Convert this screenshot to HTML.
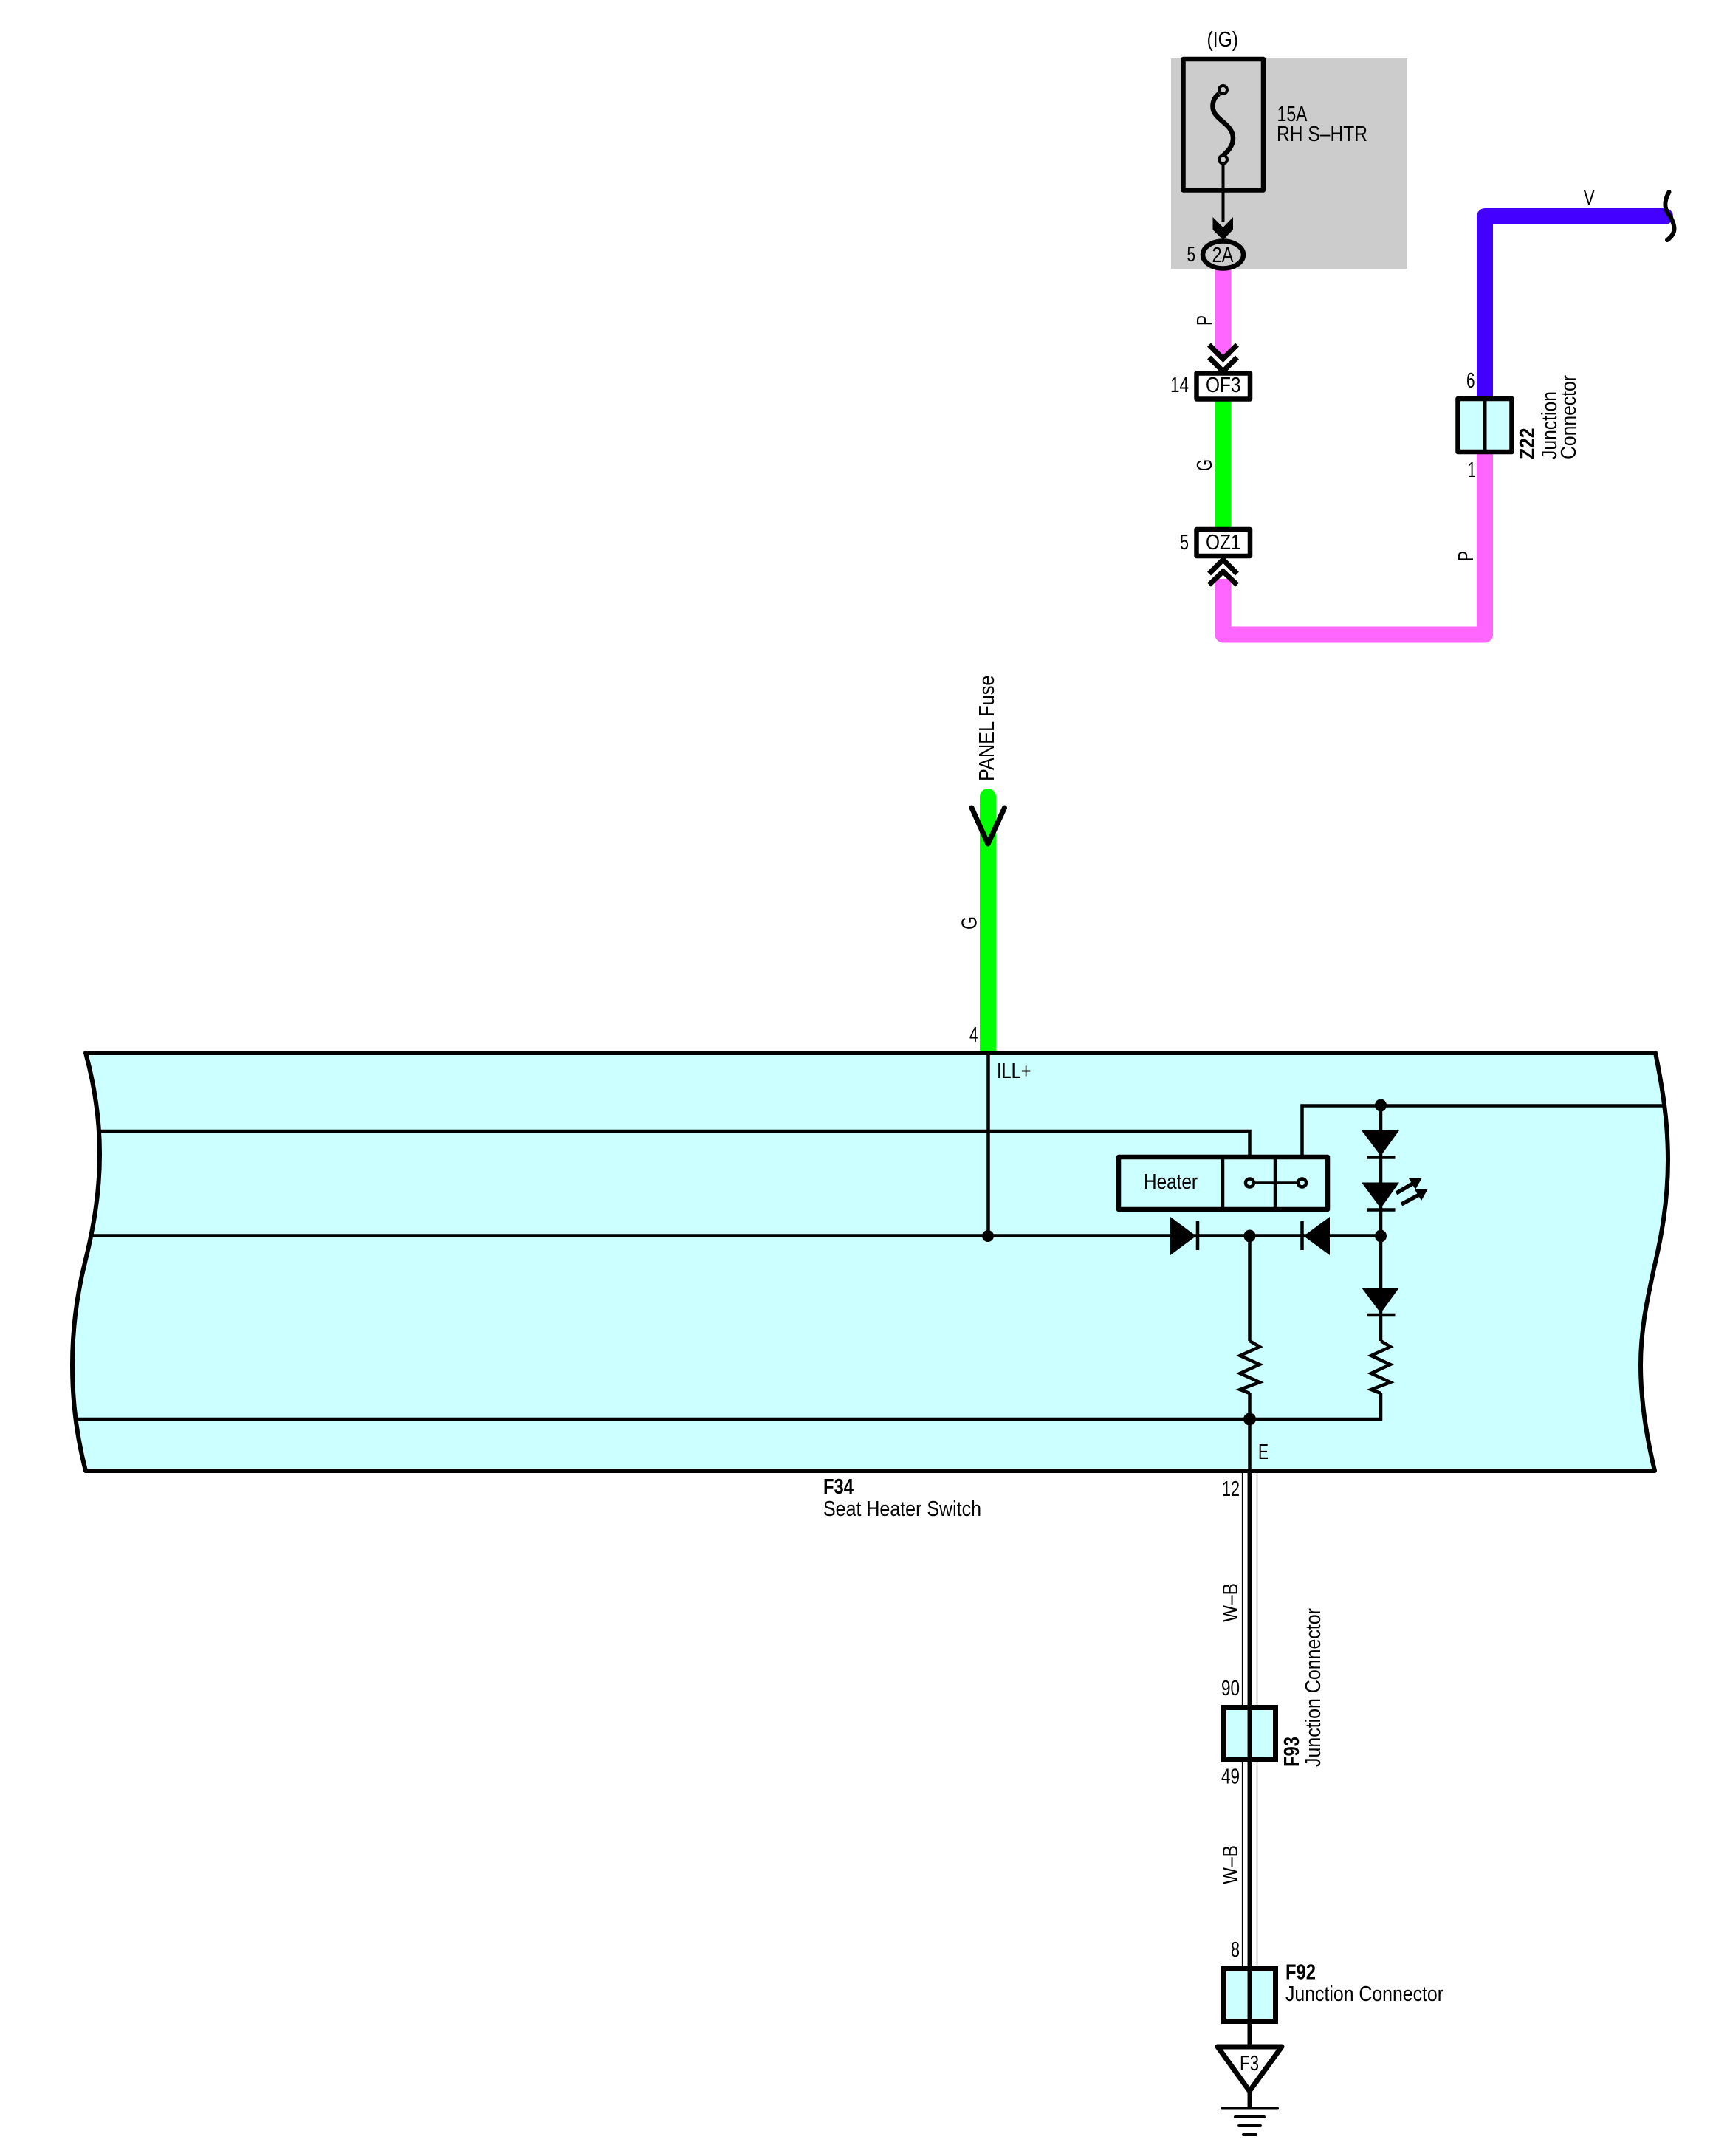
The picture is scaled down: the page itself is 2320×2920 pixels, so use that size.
<!DOCTYPE html>
<html lang="en">
<head>
<meta charset="utf-8">
<title>Seat Heater Switch Diagram</title>
<style>
html,body{margin:0;padding:0;background:#fff;width:2320px;height:2920px;overflow:hidden}
svg{display:block}
text{font-family:"Liberation Sans",Arial,sans-serif;font-size:29px;fill:#000}
.b{font-weight:bold}
</style>
</head>
<body>
<svg xmlns="http://www.w3.org/2000/svg" width="2320" height="2920" viewBox="0 0 2320 2920">
<rect width="2320" height="2920" fill="#fff"/>

<!-- Gray fuse block -->
<rect x="1586" y="79" width="320" height="285" fill="#cccccc"/>
<rect x="1602.500" y="80" width="108.500" height="177.500" fill="none" stroke="#000" stroke-width="6.500" stroke-linejoin="round"/>
<path d="M1651 127C1641 134,1640 148,1647 156C1654 165,1670 172,1670 187C1670 198,1663 205,1654 213" fill="none" stroke="#000" stroke-width="6.500"/>
<circle cx="1656.500" cy="121.500" r="5.500" fill="#ccc" stroke="#000" stroke-width="4"/>
<circle cx="1656.500" cy="216" r="5.500" fill="#ccc" stroke="#000" stroke-width="4"/>
<path d="M1656.500 221V300" stroke="#000" stroke-width="4" fill="none"/>
<path d="M1642.500 294L1656.500 308L1670 294V311L1656.500 325L1642.500 311Z" fill="#000"/>

<!-- Colour wires -->
<path d="M1656.500 365V482" stroke="#ff66ff" stroke-width="22" fill="none"/>
<path d="M1656.500 540V718" stroke="#00ff00" stroke-width="22" fill="none"/>
<path d="M1656.500 784V859.500H2011V610" stroke="#ff66ff" stroke-width="22" fill="none" stroke-linejoin="round"/>
<path d="M2011 540V293H2255" stroke="#4400ff" stroke-width="22" fill="none" stroke-linejoin="round" stroke-linecap="round"/>
<path d="M2260.500 260C2252 275,2255 285,2262 293C2268 304,2272 315,2258 325" fill="none" stroke="#000" stroke-width="6" stroke-linecap="round"/>

<!-- 2A oval -->
<ellipse cx="1656.500" cy="345" rx="27.500" ry="18.500" fill="#cccccc" stroke="#000" stroke-width="6.500"/>

<!-- Chevrons -->
<path d="M1637.500 467L1656.500 486L1675.500 467M1637.500 484L1656.500 503L1675.500 484" fill="none" stroke="#000" stroke-width="7"/>
<path d="M1637.500 777L1656.500 758L1675.500 777M1637.500 792L1656.500 774L1675.500 792" fill="none" stroke="#000" stroke-width="7"/>

<!-- OF3 / OZ1 -->
<rect x="1620.500" y="505.500" width="72.500" height="35" fill="#fff" stroke="#000" stroke-width="6.500" stroke-linejoin="round"/>
<rect x="1620.500" y="717" width="72.500" height="36" fill="#fff" stroke="#000" stroke-width="6.500" stroke-linejoin="round"/>

<!-- Z22 -->
<rect x="1974.500" y="540" width="73" height="72" fill="#ccffff" stroke="#000" stroke-width="6.500" stroke-linejoin="round"/>
<path d="M2011 540V612" stroke="#000" stroke-width="5" fill="none"/>

<!-- Panel fuse wire -->
<path d="M1338 1079V1423" stroke="#00ff00" stroke-width="22" fill="none" stroke-linecap="round"/>
<rect x="1327" y="1400" width="22" height="24" fill="#00ff00"/>
<path d="M1316 1094L1338 1143L1360.500 1094" fill="none" stroke="#000" stroke-width="7" stroke-linecap="round" stroke-linejoin="round"/>

<!-- Main switch body -->
<path d="M116 1426H2242C2252 1475,2259 1520,2259 1571C2259 1630,2249 1680,2240 1718C2231 1760,2222 1800,2222 1849C2222 1900,2231 1950,2241 1992H116C105 1950,98 1900,98 1849C98 1795,105 1750,115 1710C125 1670,135 1620,135 1563C135 1515,128 1470,116 1426Z" fill="#ccffff" stroke="#000" stroke-width="6" stroke-linejoin="round"/>

<!-- Inner wiring -->
<g fill="none" stroke="#000" stroke-width="4.500">
<path d="M135 1532H1692.500V1565"/>
<path d="M124 1673.500H1870"/>
<path d="M104 1922H1870V1887"/>
<path d="M1763.500 1565V1497.500H2253"/>
<path d="M1870 1497V1816"/>
<path d="M1338.500 1429V1673.500"/>
<path d="M1692.500 1673.500V1816"/>
<path d="M1692.500 1887V1992"/>
<path d="M1870 1816L1883 1824L1857 1836L1883 1848L1857 1860L1883 1872L1857 1882L1870 1887"/>
<path d="M1692.500 1816L1706 1824L1679.500 1836L1706 1848L1679.500 1860L1706 1872L1679.500 1882L1692.500 1887"/>
</g>

<!-- Heater box -->
<rect x="1515" y="1567" width="283" height="71" fill="#ccffff" stroke="#000" stroke-width="6.500" stroke-linejoin="round"/>
<path d="M1656 1568V1638M1727 1568V1638" stroke="#000" stroke-width="4.500" fill="none"/>
<path d="M1692.500 1602H1763.500" stroke="#000" stroke-width="3.500" fill="none"/>
<circle cx="1692.500" cy="1602" r="5.500" fill="#ccffff" stroke="#000" stroke-width="4.500"/>
<circle cx="1763.500" cy="1602" r="5.500" fill="#ccffff" stroke="#000" stroke-width="4.500"/>

<!-- Diodes -->
<path d="M1844 1531H1895L1870 1565.500Z" fill="#000"/>
<path d="M1851 1567.500H1889.500" stroke="#000" stroke-width="4.500"/>
<path d="M1844 1601.500H1895L1870 1636.500Z" fill="#000"/>
<path d="M1851 1638.500H1889.500" stroke="#000" stroke-width="4.500"/>
<path d="M1844 1744H1895L1870 1778.500Z" fill="#000"/>
<path d="M1851 1781H1889.500" stroke="#000" stroke-width="4.500"/>
<path d="M1585 1648L1620 1674L1585 1700Z" fill="#000"/>
<path d="M1622 1654V1693" stroke="#000" stroke-width="4.500"/>
<path d="M1801 1648L1765.500 1674L1801 1700Z" fill="#000"/>
<path d="M1763.500 1654V1693" stroke="#000" stroke-width="4.500"/>

<!-- LED arrows -->
<path d="M1891 1616L1915 1602M1898 1631L1924 1617" stroke="#000" stroke-width="5.500" fill="none"/>
<path d="M1926 1595L1908 1596L1917 1611Z M1934 1610L1916 1611L1925 1626Z" fill="#000"/>

<!-- Dots -->
<g fill="#000">
<ellipse cx="1870" cy="1497" rx="8" ry="8.500"/>
<ellipse cx="1870" cy="1674" rx="8" ry="8.500"/>
<ellipse cx="1692.500" cy="1674" rx="8" ry="8.500"/>
<ellipse cx="1692.500" cy="1922" rx="8.500" ry="8.500"/>
<ellipse cx="1338" cy="1674" rx="8" ry="8"/>
</g>

<!-- W-B wire -->
<path d="M1682.500 1995V2310M1702.500 1995V2310M1682.500 2386V2664M1702.500 2386V2664" stroke="#000" stroke-width="1.200" fill="none"/>
<path d="M1692.300 1992V2772" stroke="#000" stroke-width="5.500" fill="none"/>

<!-- F93 / F92 -->
<rect x="1657.500" y="2312.500" width="70" height="71" fill="#ccffff" stroke="#000" stroke-width="7"/>
<rect x="1657.500" y="2666.500" width="70" height="71" fill="#ccffff" stroke="#000" stroke-width="7"/>
<path d="M1692.300 2310V2387M1692.300 2664V2772" stroke="#000" stroke-width="5.500" fill="none"/>

<!-- Ground F3 -->
<path d="M1649 2772H1736L1692.300 2832Z" fill="#fff" stroke="#000" stroke-width="7" stroke-linejoin="round"/>
<path d="M1692.300 2832V2856" stroke="#000" stroke-width="5.500" fill="none"/>
<path d="M1655 2855.500H1730" stroke="#000" stroke-width="4" stroke-linecap="round"/>
<path d="M1673 2867H1712M1678 2879H1707M1684 2891H1701" stroke="#000" stroke-width="4" stroke-linecap="round"/>

<!-- Text -->
<text x="1634.500" y="63" textLength="42.500" lengthAdjust="spacingAndGlyphs">(IG)</text>
<text x="1729.500" y="164" textLength="41" lengthAdjust="spacingAndGlyphs">15A</text>
<text x="1729" y="191" textLength="123" lengthAdjust="spacingAndGlyphs">RH S–HTR</text>
<text x="1607.500" y="354" textLength="11.500" lengthAdjust="spacingAndGlyphs">5</text>
<text x="1641.500" y="355" textLength="29" lengthAdjust="spacingAndGlyphs">2A</text>
<text x="1585" y="531" textLength="25" lengthAdjust="spacingAndGlyphs">14</text>
<text x="1633" y="531" textLength="47.500" lengthAdjust="spacingAndGlyphs">OF3</text>
<text x="1598" y="744" textLength="12" lengthAdjust="spacingAndGlyphs">5</text>
<text x="1633" y="744" textLength="47.500" lengthAdjust="spacingAndGlyphs">OZ1</text>
<text x="2144.500" y="277" textLength="15.500" lengthAdjust="spacingAndGlyphs">V</text>
<text x="1986" y="525" textLength="11.500" lengthAdjust="spacingAndGlyphs">6</text>
<text x="1987.500" y="646" textLength="11.500" lengthAdjust="spacingAndGlyphs">1</text>
<text transform="translate(1641,441) rotate(-90)" textLength="14" lengthAdjust="spacingAndGlyphs">P</text>
<text transform="translate(1641,638) rotate(-90)" textLength="16" lengthAdjust="spacingAndGlyphs">G</text>
<text transform="translate(1995,760) rotate(-90)" textLength="14" lengthAdjust="spacingAndGlyphs">P</text>
<text class="b" transform="translate(2078,622) rotate(-90)" textLength="42.500" lengthAdjust="spacingAndGlyphs">Z22</text>
<text transform="translate(2108,622) rotate(-90)" textLength="92" lengthAdjust="spacingAndGlyphs">Junction</text>
<text transform="translate(2134,622) rotate(-90)" textLength="114" lengthAdjust="spacingAndGlyphs">Connector</text>

<text transform="translate(1346,1058) rotate(-90)" textLength="143.500" lengthAdjust="spacingAndGlyphs">PANEL Fuse</text>
<text transform="translate(1322.500,1259) rotate(-90)" textLength="18" lengthAdjust="spacingAndGlyphs">G</text>
<text x="1313" y="1411" textLength="11.500" lengthAdjust="spacingAndGlyphs">4</text>
<text x="1350" y="1460" textLength="46.500" lengthAdjust="spacingAndGlyphs">ILL+</text>
<text x="1549" y="1610" textLength="73" lengthAdjust="spacingAndGlyphs">Heater</text>
<text x="1704" y="1976" textLength="14" lengthAdjust="spacingAndGlyphs">E</text>
<text class="b" x="1115" y="2023" textLength="41" lengthAdjust="spacingAndGlyphs">F34</text>
<text x="1115" y="2053" textLength="214" lengthAdjust="spacingAndGlyphs">Seat Heater Switch</text>
<text x="1655" y="2026" textLength="24" lengthAdjust="spacingAndGlyphs">12</text>
<text transform="translate(1676,2197) rotate(-90)" textLength="53" lengthAdjust="spacingAndGlyphs">W–B</text>
<text x="1654" y="2296" textLength="25" lengthAdjust="spacingAndGlyphs">90</text>
<text x="1654" y="2415.500" textLength="25" lengthAdjust="spacingAndGlyphs">49</text>
<text transform="translate(1676,2552) rotate(-90)" textLength="53" lengthAdjust="spacingAndGlyphs">W–B</text>
<text x="1667" y="2650" textLength="12" lengthAdjust="spacingAndGlyphs">8</text>
<text class="b" transform="translate(1759,2393) rotate(-90)" textLength="41" lengthAdjust="spacingAndGlyphs">F93</text>
<text transform="translate(1788,2393) rotate(-90)" textLength="215" lengthAdjust="spacingAndGlyphs">Junction Connector</text>
<text class="b" x="1741" y="2680.500" textLength="41" lengthAdjust="spacingAndGlyphs">F92</text>
<text x="1741" y="2710" textLength="214" lengthAdjust="spacingAndGlyphs">Junction Connector</text>
<text x="1679" y="2804" textLength="26" lengthAdjust="spacingAndGlyphs">F3</text>
</svg>
</body>
</html>
